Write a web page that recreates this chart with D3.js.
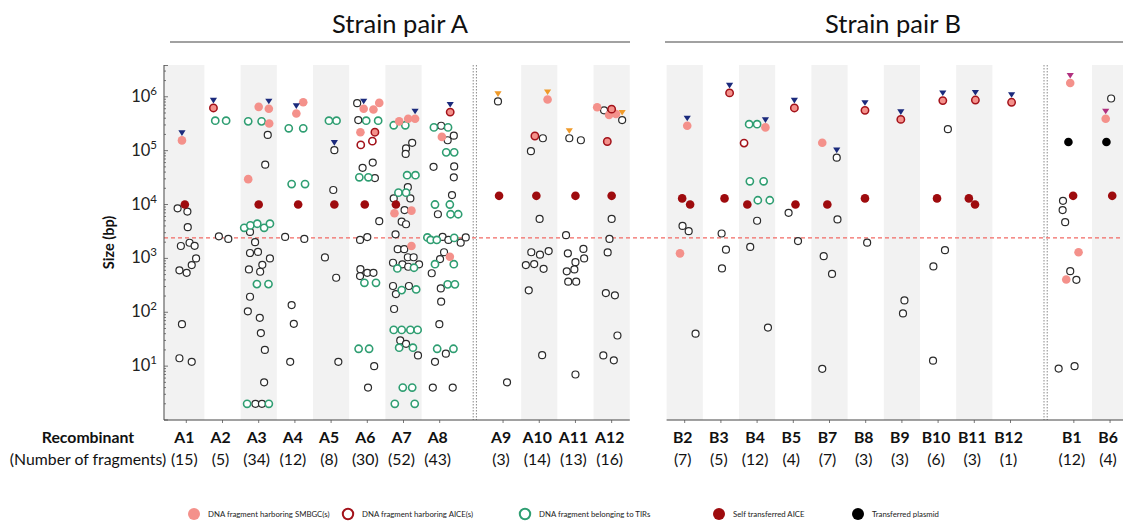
<!DOCTYPE html>
<html><head><meta charset="utf-8">
<script src="https://cdn.jsdelivr.net/npm/d3@7"></script>
<style>
html,body{margin:0;padding:0;background:#fff;}
svg{display:block;font-family:Lato,"Open Sans",sans-serif;}
</style></head>
<body><svg id="chart" width="1123" height="524"></svg>
<script>
// ---------------- DATA ----------------
const panelATitle = "Strain pair A";
const panelBTitle = "Strain pair B";
const recombinantsA = ["A1","A2","A3","A4","A5","A6","A7","A8","A9","A10","A11","A12"];
const recombinantsB = ["B2","B3","B4","B5","B7","B8","B9","B10","B11","B12","B1","B6"];
const countsA = [15,5,34,12,8,30,52,43,3,14,13,16];
const countsB = [7,5,12,4,7,3,3,6,3,1,12,4];
const splitA = 8;   // number of recombinants before the dotted separator
const splitB = 10;
const yTickExps = [1,2,3,4,5,6];
const thresholdBp = 2400;
// fragment: [recombinant, size (bp), type, horizontal jitter (fraction of column), marker]
// types: o=other fragment, s=SMBGC, a=AICE, sa=SMBGC+AICE, t=TIR, x=self transferred AICE, p=transferred plasmid
// marker: n / y / m = triangle colour above the fragment
const fragmentsA = [
 ["A1",1.55e5,"s",-0.12,"n"],["A1",1e4,"x",-0.04],["A1",8500,"o",-0.24],["A1",7400,"o",0.03],["A1",3800,"o",0.04],
 ["A1",1700,"o",-0.15],["A1",1950,"o",0.09],["A1",1710,"o",0.23],["A1",1000,"o",0.27],["A1",750,"o",0.15],
 ["A1",600,"o",-0.19],["A1",540,"o",0.01],["A1",60,"o",-0.12],["A1",14,"o",-0.19],["A1",12,"o",0.15],
 ["A2",6.2e5,"sa",-0.25,"n"],["A2",3.6e5,"t",-0.2],["A2",3.6e5,"t",0.1],["A2",2570,"o",-0.1],["A2",2300,"o",0.16],
 ["A3",6.0e5,"s",0.28,"n"],["A3",6.5e5,"s",0],["A3",3.2e5,"s",0.29],["A3",3.5e5,"t",-0.29],["A3",3.5e5,"t",0.08],
 ["A3",1.96e5,"o",0.25],["A3",5.5e4,"o",0.18],["A3",2.96e4,"s",-0.29],["A3",1e4,"x",0],
 ["A3",3700,"t",-0.4],["A3",4100,"t",-0.23],["A3",4400,"t",-0.04],["A3",3700,"t",0.15],["A3",4400,"t",0.31],
 ["A3",3100,"o",-0.24],["A3",2000,"o",-0.1],["A3",1260,"o",-0.24],["A3",1320,"o",-0.02],["A3",1000,"o",0.31],
 ["A3",760,"o",0.1],["A3",625,"o",-0.27],["A3",565,"o",0.04],["A3",333,"t",-0.05],["A3",333,"t",0.27],
 ["A3",194,"o",-0.24],["A3",104,"o",-0.3],["A3",79,"o",0.03],["A3",41,"o",0.06],["A3",20,"o",0.17],["A3",5,"o",0.15],
 ["A3",2,"t",-0.32],["A3",2,"o",-0.09],["A3",2,"o",0.09],["A3",2,"t",0.28],
 ["A4",4.9e5,"s",0.04,"n"],["A4",7.9e5,"s",0.23],["A4",2.6e5,"t",-0.17],["A4",2.6e5,"t",0.23],["A4",2.4e4,"t",-0.09],
 ["A4",2.4e4,"t",0.28],["A4",1e4,"x",0.09],["A4",2500,"o",-0.27],["A4",2300,"o",0.26],["A4",136,"o",-0.09],
 ["A4",61,"o",-0.03],["A4",12,"o",-0.13],
 ["A5",3.6e5,"t",-0.06],["A5",3.6e5,"t",0.15],["A5",1.02e5,"o",0.09,"n"],["A5",1.86e4,"o",0.06],["A5",1e4,"x",0.09],
 ["A5",1040,"o",-0.17],["A5",437,"o",0.14],["A5",12,"o",0.2],
 ["A6",7.6e5,"o",-0.28],["A6",6.0e5,"s",-0.1,"n"],["A6",5.8e5,"s",0.17],["A6",7.7e5,"s",0.33],["A6",3.7e5,"o",-0.25],
 ["A6",3.6e5,"t",-0.03],["A6",3.6e5,"t",0.3],["A6",2.2e5,"s",-0.19],["A6",2.2e5,"sa",0.21],["A6",1.28e5,"a",-0.18],
 ["A6",1.5e5,"a",0.14],["A6",6.0e4,"o",0.15],["A6",4.8e4,"o",-0.13],["A6",3.2e4,"t",-0.22],["A6",3.2e4,"t",0.03],
 ["A6",3.1e4,"o",0.21],["A6",1e4,"x",-0.07],["A6",4900,"o",0.33],["A6",2200,"o",-0.2],["A6",2490,"o",0],
 ["A6",630,"o",-0.19],["A6",470,"o",-0.2],["A6",540,"o",0],["A6",540,"o",0.17],["A6",352,"t",-0.08],
 ["A6",352,"t",0.24],["A6",21,"t",-0.24],["A6",21,"t",0.05],["A6",10,"o",0.19],["A6",4,"o",0.02],
 ["A7",3.9e5,"s",0.32,"n"],["A7",3.9e5,"s",0.13],["A7",3.5e5,"s",-0.12],["A7",2.96e5,"t",-0.27],["A7",2.96e5,"t",0.05],
 ["A7",1.4e5,"o",0.24],["A7",1.1e5,"o",0.07],["A7",8.7e4,"o",0.06],["A7",3.5e4,"t",0.1],["A7",3.5e4,"t",0.33],
 ["A7",2.1e4,"o",0.12],["A7",1.66e4,"t",-0.14],["A7",1.66e4,"t",0.07],["A7",1.3e4,"o",-0.27],["A7",1.3e4,"o",0.19],
 ["A7",1e4,"x",-0.21],["A7",6900,"s",-0.25],["A7",7700,"s",0.22],["A7",7900,"o",0.03],["A7",4800,"o",-0.05],
 ["A7",4300,"o",0.07],["A7",2800,"o",-0.22],["A7",1480,"o",-0.16],["A7",1480,"o",0.02],["A7",1700,"s",0.22],
 ["A7",1050,"o",0.12],["A7",1050,"o",0.28],["A7",830,"o",-0.29],["A7",775,"o",-0.03],["A7",700,"o",0.13],
 ["A7",775,"o",0.43],["A7",650,"t",-0.17],["A7",670,"t",0.29],["A7",307,"o",-0.29],["A7",218,"o",-0.21],
 ["A7",307,"o",0.15],["A7",258,"t",-0.05],["A7",265,"t",0.35],["A7",115,"o",-0.26],["A7",47,"t",-0.27],
 ["A7",47,"t",-0.05],["A7",47,"t",0.19],["A7",47,"t",0.39],["A7",30,"o",-0.09],["A7",26,"o",0.07],
 ["A7",22,"t",-0.12],["A7",22,"t",0.26],["A7",15.8,"o",0.4],["A7",4,"t",-0.02],["A7",4,"t",0.24],
 ["A7",2,"t",-0.24],["A7",2,"t",0.31],
 ["A8",5.2e5,"sa",0.29,"n"],["A8",2.7e5,"t",-0.16],["A8",2.9e5,"o",0.04],["A8",2.7e5,"t",0.23],["A8",1.56e5,"o",0.22],
 ["A8",1.9e5,"o",0.39],["A8",1.8e5,"s",0.06],["A8",9.3e4,"t",0.18],["A8",9.3e4,"t",0.4],["A8",5e4,"o",-0.17],
 ["A8",5.1e4,"o",0.4],["A8",3.2e4,"o",0.39],["A8",1.5e4,"o",0.34],["A8",1e4,"t",-0.13],["A8",1e4,"t",0.28],
 ["A8",6600,"o",-0.05],["A8",6600,"t",0.3],["A8",6600,"t",0.51],["A8",2450,"t",-0.34],["A8",2200,"t",-0.25],
 ["A8",2200,"t",-0.08],["A8",2500,"o",0.08],["A8",2200,"o",0.24],["A8",2400,"t",0.4],["A8",1960,"o",0.58],
 ["A8",2450,"o",0.72],["A8",1300,"o",0.12],["A8",970,"o",0.01],["A8",1070,"s",0.28],["A8",780,"t",-0.13],
 ["A8",780,"t",0.39],["A8",530,"o",-0.22],["A8",277,"o",0.03],["A8",330,"t",0.22],["A8",330,"t",0.42],
 ["A8",157,"o",0.04],["A8",60,"o",-0.01],["A8",21,"t",-0.07],["A8",21,"t",0.38],["A8",17,"o",0.17],
 ["A8",12,"o",-0.13],["A8",4,"o",-0.19],["A8",4,"o",0.36],
 ["A9",8.2e5,"o",-0.14,"y"],["A9",1.45e4,"x",-0.11],["A9",5,"o",0.11],
 ["A10",8.9e5,"s",0.23,"y"],["A10",1.87e5,"sa",-0.12],["A10",1.7e5,"o",0.1],["A10",9.8e4,"o",-0.23],["A10",1.45e4,"x",-0.08],
 ["A10",5400,"o",0.01],["A10",1300,"o",-0.22],["A10",1170,"o",0.02],["A10",1370,"o",0.26],["A10",750,"o",-0.37],
 ["A10",785,"o",-0.14],["A10",640,"o",0.12],["A10",255,"o",-0.29],["A10",16,"o",0.08],
 ["A11",1.7e5,"o",-0.17,"y"],["A11",1.56e5,"o",0.15],["A11",1.45e4,"x",0],["A11",2700,"o",-0.26],["A11",1240,"o",-0.21],
 ["A11",1500,"o",0.22],["A11",1000,"o",0.24],["A11",850,"o",0],["A11",575,"o",-0.24],["A11",625,"o",-0.03],
 ["A11",370,"o",-0.2],["A11",370,"o",0.02],["A11",7,"o",0],
 ["A12",6.4e5,"s",-0.4],["A12",5.6e5,"o",-0.21],["A12",5.9e5,"sa",0],["A12",4.6e5,"s",-0.07],["A12",4.8e5,"s",0.12],
 ["A12",3.7e5,"o",0.29,"y"],["A12",1.48e5,"sa",-0.12],["A12",1.45e4,"x",0],["A12",5400,"o",0],["A12",2300,"o",-0.06],
 ["A12",1290,"o",-0.11],["A12",227,"o",-0.16],["A12",206,"o",0.09],["A12",37,"o",0.16],["A12",15.8,"o",-0.23],
 ["A12",12.8,"o",0.06]
];
const fragmentsB = [
 ["B2",2.9e5,"s",0.07,"n"],["B2",1.3e4,"x",-0.07],["B2",1e4,"x",0.15],["B2",4000,"o",-0.06],["B2",3200,"o",0.11],
 ["B2",1240,"s",-0.13],["B2",40,"o",0.3],
 ["B3",1.18e6,"sa",0.24,"n"],["B3",1.3e4,"x",0.1],["B3",2900,"o",0.02],["B3",1450,"o",0.14],["B3",650,"o",0.03],
 ["B4",3.1e5,"t",-0.22],["B4",3.1e5,"t",0],["B4",2.7e5,"s",0.23,"n"],["B4",1.38e5,"a",-0.36],["B4",2.7e4,"t",-0.2],
 ["B4",2.7e4,"t",0.18],["B4",1.2e4,"t",0.02],["B4",1.2e4,"t",0.35],["B4",1e4,"x",-0.27],["B4",5000,"o",0],
 ["B4",1630,"o",-0.19],["B4",52,"o",0.3],
 ["B5",6.2e5,"sa",0.03,"n"],["B5",1e4,"x",0.06],["B5",7000,"o",-0.13],["B5",2100,"o",0.13],
 ["B7",1.4e5,"s",-0.2],["B7",7.4e4,"o",0.2,"n"],["B7",1e4,"x",-0.06],["B7",5300,"o",0.22],["B7",1100,"o",-0.16],
 ["B7",515,"o",0.07],["B7",8.9,"o",-0.2],
 ["B8",5.6e5,"sa",-0.02,"n"],["B8",1.3e4,"x",-0.02],["B8",1960,"o",0.04],
 ["B9",3.8e5,"sa",-0.03,"n"],["B9",166,"o",0.07],["B9",95,"o",0.03],
 ["B10",8.5e5,"sa",0.13,"n"],["B10",2.5e5,"o",0.27],["B10",1.3e4,"x",-0.03],["B10",1420,"o",0.19],["B10",710,"o",-0.13],
 ["B10",12.6,"o",-0.14],
 ["B11",8.7e5,"sa",0.03,"n"],["B11",1.3e4,"x",-0.15],["B11",1e4,"x",0.02],
 ["B12",7.9e5,"sa",0.03,"n"],
 ["B1",1.8e6,"s",-0.1,"m"],["B1",1.45e5,"p",-0.15],["B1",1.45e4,"x",-0.02],["B1",1.17e4,"o",-0.3],["B1",7900,"o",-0.31],
 ["B1",4700,"o",-0.24],["B1",1300,"s",0.13],["B1",580,"o",-0.1],["B1",400,"o",0.07],["B1",405,"s",-0.21],
 ["B1",9,"o",-0.42],["B1",10,"o",0.02],
 ["B6",9.3e5,"o",0.03],["B6",3.9e5,"s",-0.12,"m"],["B6",1.45e5,"p",-0.1],["B6",1.45e4,"x",0.06]
];
const legendItems = [
 {type:"s", label:"DNA fragment harboring SMBGC(s)"},
 {type:"a", label:"DNA fragment harboring AICE(s)"},
 {type:"t", label:"DNA fragment belonging to TIRs"},
 {type:"x", label:"Self transferred AICE"},
 {type:"p", label:"Transferred plasmid"}
];

// ---------------- STYLE / LAYOUT ----------------
const C = {pink:"#f4918b", aice:"#a3121a", tir:"#2f9e72", self:"#9e0b0e", plasmid:"#000", other:"#2b2b2b",
  band:"#f2f2f2", navy:"#1b2a7c", orange:"#ef9a2a", magenta:"#b1307f"};
const markerColor = {n:C.navy, y:C.orange, m:C.magenta};
const W = 1123, H = 524;
const plotTop = 65, plotBottom = 420, axisX = 164;
const slotW = 36.2;
const svg = d3.select("#chart");

const y = d3.scaleLog().domain([1, Math.pow(10, 6.59)]).range([plotBottom, plotTop]);

function slotIndex(cats, split) {
  return d3.scaleOrdinal().domain(cats).range(cats.map((c,i) => i < split ? i : i + 0.75));
}
const panels = [
  {title:panelATitle, cats:recombinantsA, counts:countsA, split:splitA, data:fragmentsA, origin:186.3,
   lineX:[170,630], axisStart:axisX, axisEnd:629.8},
  {title:panelBTitle, cats:recombinantsB, counts:countsB, split:splitB, data:fragmentsB, origin:684.7,
   lineX:[665,1123], axisStart:666.6, axisEnd:1123}
];
panels.forEach(p => {
  p.slot = slotIndex(p.cats, p.split);
  p.x = d3.scaleLinear().domain([0,1]).range([p.origin, p.origin + slotW]);
  p.cx = c => p.x(p.slot(c));
});

// background bands
panels.forEach((p,pi) => {
  const g = svg.append("g");
  p.cats.forEach((c,i) => {
    const k = i < p.split ? i : i + 1;
    if (k % 2 !== 0) return;
    let x0 = p.cx(c) - slotW/2, x1 = p.cx(c) + slotW/2;
    if (pi === 0 && i === 0) x0 = axisX + 0.5;
    x1 = Math.min(x1, W);
    g.append("rect").attr("x", x0).attr("y", plotTop).attr("width", x1 - x0).attr("height", plotBottom - plotTop)
      .attr("fill", C.band);
  });
  // dotted separator
  const sx = p.x(p.split - 0.03);
  [-1.6, 1.6].forEach(d => {
    g.append("line").attr("x1", sx + d).attr("x2", sx + d).attr("y1", plotTop).attr("y2", plotBottom)
      .attr("stroke", "#8a8a8a").attr("stroke-width", 1).attr("stroke-dasharray", "1.5,1.5");
  });
});

// threshold line
svg.append("line").attr("x1", axisX).attr("x2", W).attr("y1", y(thresholdBp)).attr("y2", y(thresholdBp))
  .attr("stroke", "#f26a64").attr("stroke-width", 1.2).attr("stroke-dasharray", "4,3");

// y axis
const yAxisG = svg.append("g");
yAxisG.append("line").attr("x1", axisX).attr("x2", axisX).attr("y1", plotTop).attr("y2", plotBottom)
  .attr("stroke", "#444").attr("stroke-width", 1);
const minorTicks = [];
for (let e = 0; e <= 6; e++) for (let m = 1; m <= 9; m++) {
  const v = m * Math.pow(10, e);
  if (v <= y.domain()[1]) minorTicks.push(v);
}
yAxisG.selectAll("line.minor").data(minorTicks).join("line").attr("class","minor")
  .attr("x1", axisX).attr("x2", d => (Math.log10(d) % 1 === 0) ? axisX + 4 : axisX + 2)
  .attr("y1", d => y(d)).attr("y2", d => y(d)).attr("stroke", "#555").attr("stroke-width", 0.8);
yAxisG.append("line").attr("x1", axisX).attr("x2", axisX + 4).attr("y1", plotTop + 0.5).attr("y2", plotTop + 0.5)
  .attr("stroke", "#555").attr("stroke-width", 0.8);
const yl = yAxisG.selectAll("text.tl").data(yTickExps).join("text").attr("class","tl")
  .attr("x", 157).attr("y", d => y(Math.pow(10, d)) + 5).attr("text-anchor", "end")
  .attr("fill", "#222").attr("font-size", 16.5);
yl.append("tspan").text("10");
yl.append("tspan").attr("dy", -7).attr("font-size", 11.5).text(d => d);
svg.append("text").attr("transform", `translate(114,${(plotTop+plotBottom)/2 + 0}) rotate(-90)`)
  .attr("text-anchor", "middle").attr("font-weight", "bold").attr("font-size", 14.5).attr("fill", "#111")
  .text("Size (bp)");

// x axes, titles, labels
const labelSize = 15.8;
panels.forEach(p => {
  svg.append("line").attr("x1", p.axisStart).attr("x2", p.axisEnd).attr("y1", plotBottom).attr("y2", plotBottom)
    .attr("stroke", "#444").attr("stroke-width", 1);
  svg.selectAll(null).data(p.cats).join("line")
    .attr("x1", d => p.cx(d)).attr("x2", d => p.cx(d)).attr("y1", plotBottom).attr("y2", plotBottom + 3)
    .attr("stroke", "#555").attr("stroke-width", 0.8);
  svg.append("line").attr("x1", p.lineX[0]).attr("x2", p.lineX[1]).attr("y1", 42).attr("y2", 42)
    .attr("stroke", "#444").attr("stroke-width", 1.2);
  svg.append("text").attr("x", (p.lineX[0] + p.lineX[1]) / 2 + (p === panels[1] ? -1 : 0)).attr("y", 33)
    .attr("text-anchor", "middle").attr("font-size", 25.5).attr("fill", "#111").text(p.title);
  svg.selectAll(null).data(p.cats).join("text").attr("x", d => p.cx(d) - 2).attr("y", 443)
    .attr("text-anchor", "middle").attr("font-weight", "bold").attr("font-size", labelSize).attr("fill", "#111").text(d => d);
  svg.selectAll(null).data(p.counts).join("text").attr("x", (d,i) => p.cx(p.cats[i]) - 2).attr("y", 465)
    .attr("text-anchor", "middle").attr("font-size", labelSize).attr("fill", "#111").text(d => `(${d})`);
});
svg.append("text").attr("x", 88).attr("y", 443).attr("text-anchor", "middle").attr("font-weight", "bold")
  .attr("font-size", labelSize).attr("fill", "#111").text("Recombinant");
svg.append("text").attr("x", 88).attr("y", 465).attr("text-anchor", "middle")
  .attr("font-size", labelSize).attr("fill", "#111").text("(Number of fragments)");

// point styles
function styleCircle(sel, type) {
  const st = {
    o:{r:3.5, fill:"#fff", stroke:C.other, sw:1.2},
    s:{r:4.3, fill:C.pink, stroke:"none", sw:0},
    a:{r:3.6, fill:"#fff", stroke:C.aice, sw:1.6},
    sa:{r:3.7, fill:C.pink, stroke:C.aice, sw:1.5},
    t:{r:3.6, fill:"#fff", stroke:C.tir, sw:1.6},
    x:{r:4.3, fill:C.self, stroke:"none", sw:0},
    p:{r:4.3, fill:C.plasmid, stroke:"none", sw:0}
  }[type];
  sel.attr("r", st.r).attr("fill", st.fill).attr("stroke", st.stroke).attr("stroke-width", st.sw);
}

const order = {o:0, t:1, a:2, s:3, sa:4, x:5, p:6};
panels.forEach(p => {
  const g = svg.append("g");
  const pts = p.data.map(d => ({cat:d[0], v:d[1], type:d[2], j:d[3], mk:d[4]}))
    .sort((a,b) => order[a.type] - order[b.type]);
  pts.forEach(d => {
    const cx = p.cx(d.cat) + d.j * slotW, cy = y(d.v);
    g.append("circle").attr("cx", cx).attr("cy", cy).call(styleCircle, d.type);
  });
  pts.filter(d => d.mk).forEach(d => {
    const cx = p.cx(d.cat) + d.j * slotW, cy = y(d.v) - 7.5;
    g.append("path").attr("d", `M${cx-3.6},${cy-2.6}L${cx+3.6},${cy-2.6}L${cx},${cy+3}Z`)
      .attr("fill", markerColor[d.mk]);
  });
});

// legend
const legendX = [194, 348, 525, 719, 858];
const lg = svg.append("g");
legendItems.forEach((it,i) => {
  const c = lg.append("circle").attr("cx", legendX[i]).attr("cy", 514).call(styleCircle, it.type);
  if (it.type === "s" || it.type === "x" || it.type === "p") c.attr("r", 6);
  else c.attr("r", 5.2).attr("stroke-width", 2);
  lg.append("text").attr("x", legendX[i] + 14).attr("y", 517.2).attr("font-size", 7.8).attr("fill", "#222").text(it.label);
});
</script>
</body></html>
